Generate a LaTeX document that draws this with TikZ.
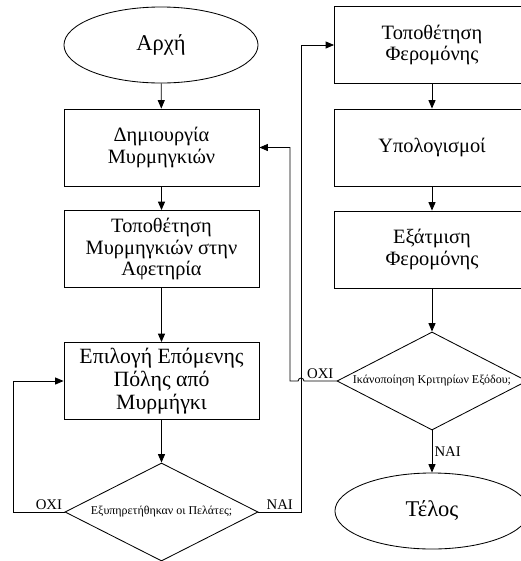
\documentclass[tikz,border=0pt]{standalone}
\usepackage{fontspec}
\setmainfont{Liberation Serif}
\usetikzlibrary{shapes.geometric, arrows.meta, positioning, calc}

\begin{document}
\begin{tikzpicture}[
    x=0.025cm, y=-0.025cm,
    line width=0.6pt,
    every node/.style={font=\fontsize{14.5}{15.5}\selectfont},
    box/.style={rectangle, draw=black, minimum width=4.875cm, minimum height=1.925cm, align=center, inner sep=0pt},
    term/.style={ellipse, draw=black, minimum width=4.85cm, minimum height=1.9cm, inner sep=0pt, font=\fontsize{16}{17}\selectfont},
    dec/.style={diamond, draw=black, aspect=2, minimum width=4.825cm, minimum height=2.45cm, inner sep=0pt, font=\fontsize{8.5}{9}\selectfont},
    lbl/.style={font=\fontsize{10.5}{11}\selectfont, inner sep=1.5pt},
    arr/.style={-{Triangle[length=6pt,width=5pt]}}
]
\useasboundingbox (0,0) rectangle (521,561);
\clip (0,0) rectangle (521,561);
% left column: ants
\node[term] (start) at (161,45) {Αρχή};
\node[box] (create) at (161.5,147.5) {Δημιουργία\\Μυρμηγκιών};
\node[box] (place) at (161.5,249) {Τοποθέτηση\\Μυρμηγκιών στην\\Αφετηρία};
\node[box, font=\fontsize{15.5}{16.5}\selectfont] (choose) at (161.5,381) {Επιλογή Επόμενης\\Πόλης από\\Μυρμήγκι};
\node[dec] (served) at (161.5,512) {Εξυπηρετήθηκαν οι Πελάτες;};
% right column: pheromone
\node[box] (pher) at (432,45) {Τοποθέτηση\\Φερομόνης};
\node[box] (compute) at (432,147.5) {Υπολογισμοί};
\node[box] (evap) at (432,249.5) {Εξάτμιση\\Φερομόνης};
\node[dec, minimum width=4.75cm] (exit) at (432,381) {Ικάνοποίηση Κριτηρίων Εξόδου;};
\node[term] (stop) at (432,511) {Τέλος};

\foreach \a/\b in {start/create, create/place, place/choose, choose/served, pher/compute, compute/evap, evap/exit}{
    \draw[arr] (\a) -- (\b);
}
\draw[arr] (exit) -- node[lbl, right] {ΝΑΙ} (stop);

% loops
\draw[arr] (served.west) -- node[lbl, above left, pos=0] {ΟΧΙ} (13,512) |- (choose.west);
\draw[arr] (served.east) -- node[lbl, above] {ΝΑΙ} (301,512) |- (pher.west);
\draw[arr] (exit.west) -- node[lbl, above] {ΟΧΙ} (304,381) arc[start angle=0, end angle=180, radius=2.1pt] -- (290,381) |- (create.east);
\end{tikzpicture}
\end{document}
